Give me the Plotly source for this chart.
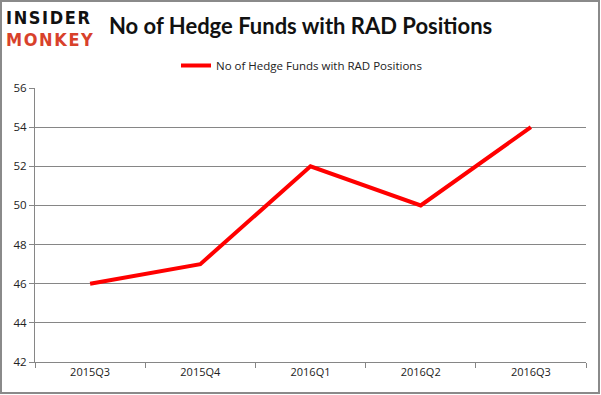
import plotly.graph_objects as go

quarters = ["2015Q3", "2015Q4", "2016Q1", "2016Q2", "2016Q3"]
funds = [46, 47, 52, 50, 54]
series_name = "No of Hedge Funds with RAD Positions"
title_text = "No of Hedge Funds with RAD Positions"
logo_top = "INSIDER"
logo_bottom = "MONKEY"

W, H = 601, 395
ml, mr, mt, mb = 35, 15, 88, 33
pw, ph = W - ml - mr, H - mt - mb

def px(x):
    return (x - ml) / pw

def py(y):
    return (H - mb - y) / ph

def spaced(s):
    return "\u200a".join(s)

fig = go.Figure()
fig.add_trace(go.Scatter(
    x=quarters, y=funds, mode="lines", name=series_name,
    line=dict(color="#ff0000", width=4),
))

fig.update_layout(
    width=W, height=H,
    margin=dict(l=ml, r=mr, t=mt, b=mb),
    paper_bgcolor="white", plot_bgcolor="white",
    showlegend=True,
    legend=dict(orientation="h", x=px(176), y=py(51), xanchor="left", yanchor="top",
                font=dict(family="Open Sans", size=11.5, color="#222"),
                itemwidth=30, bgcolor="rgba(0,0,0,0)"),
    font=dict(family="Open Sans", size=11, color="#222"),
)
fig.update_xaxes(
    type="category", tickson="boundaries", ticks="outside", ticklen=5,
    tickcolor="#868686", showline=True, linecolor="#868686", linewidth=1,
    showgrid=False, range=[-0.5, 4.5],
    tickfont=dict(family="Open Sans", size=11, color="#222"),
)
fig.update_yaxes(
    range=[42, 56], dtick=2, ticks="outside", ticklen=5, tickcolor="#868686",
    showline=True, linecolor="#868686", linewidth=1,
    showgrid=True, gridcolor="#868686", gridwidth=1, zeroline=False,
    tickfont=dict(family="Open Sans", size=11.5, color="#222"),
)

# frame
fig.add_shape(type="rect", xref="paper", yref="paper",
              x0=px(1), x1=px(599), y0=py(393), y1=py(1),
              line=dict(color="#8a8a8a", width=2), fillcolor="rgba(0,0,0,0)", layer="below")

# title
fig.add_annotation(text="<b>" + title_text + "</b>", xref="paper", yref="paper",
                   x=px(300), y=py(25), xanchor="center", yanchor="middle",
                   showarrow=False, font=dict(family="Lato", size=22, color="#111"))

# logo
fig.add_annotation(text="<b>" + spaced(logo_top) + "</b>", xref="paper", yref="paper",
                   x=px(4), y=py(17), xanchor="left", yanchor="middle",
                   showarrow=False, font=dict(family="DejaVu Sans Condensed", size=18, color="#111"))
fig.add_annotation(text="<b>" + spaced(logo_bottom) + "</b>", xref="paper", yref="paper",
                   x=px(4), y=py(39), xanchor="left", yanchor="middle",
                   showarrow=False, font=dict(family="DejaVu Sans Condensed", size=18, color="#d8412b"))

fig.write_html("out.html", config={"displayModeBar": False},
               post_script="document.body.style.margin='0';document.body.style.padding='0';")
